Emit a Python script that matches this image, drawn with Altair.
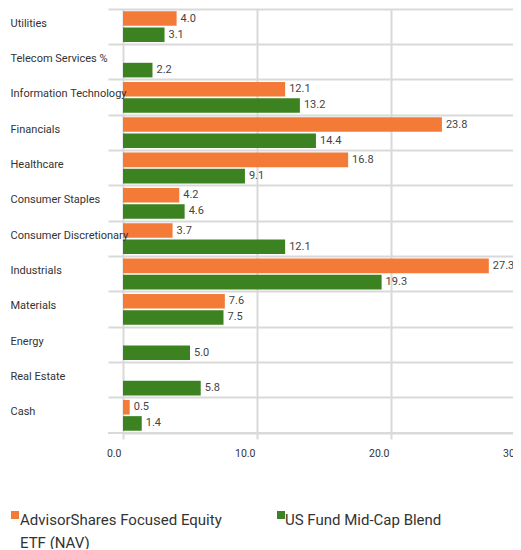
import altair as alt
import pandas as pd

categories = ["Utilities", "Telecom Services %", "Information Technology", "Financials",
              "Healthcare", "Consumer Staples", "Consumer Discretionary", "Industrials",
              "Materials", "Energy", "Real Estate", "Cash"]
fund_values = [4.0, None, 12.1, 23.8, 16.8, 4.2, 3.7, 27.3, 7.6, None, None, 0.5]
bench_values = [3.1, 2.2, 13.2, 14.4, 9.1, 4.6, 12.1, 19.3, 7.5, 5.0, 5.8, 1.4]
series = ["AdvisorShares Focused Equity ETF (NAV)", "US Fund Mid-Cap Blend"]
legend_labels = ["AdvisorShares Focused Equity\nETF (NAV)", "US Fund Mid-Cap Blend"]
colors = ["#F47A37", "#3D8220"]
x_ticks = [0, 10, 20, 30]

rows = []
for c, f, b in zip(categories, fund_values, bench_values):
    if f is not None:
        rows.append({"category": c, "series": series[0], "value": f})
    if b is not None:
        rows.append({"category": c, "series": series[1], "value": b})
df = pd.DataFrame(rows)
legend_df = pd.DataFrame({"series": series, "label": legend_labels})

FONT = "Roboto"
W, H = 402, 424

y_enc = alt.Y("category:N", sort=categories,
              scale=alt.Scale(paddingInner=0, paddingOuter=0),
              axis=alt.Axis(title=None, bandPosition=0, grid=True, gridColor="#d9d9d9",
                            gridWidth=2, ticks=True, tickSize=15, tickColor="#d9d9d9",
                            tickWidth=2, domain=False, labelAlign="left", labelPadding=98,
                            labelOffset=-3, labelBaseline="middle", labelFontSize=11,
                            labelColor="#333333", labelFont=FONT, labelLimit=200,
                            zindex=1))
x_enc = alt.X("value:Q", scale=alt.Scale(domain=[0, 30], nice=False),
              axis=alt.Axis(title=None, values=x_ticks, format=".1f", grid=True,
                            gridColor="#d9d9d9", gridWidth=2, domain=True,
                            domainColor="#d9d9d9", domainWidth=2, tickColor="#d9d9d9",
                            tickWidth=2, tickSize=6, labelPadding=9, labelFontSize=10.5,
                            labelAlign="right", labelOffset=-2,
                            labelColor="#333333", labelFont=FONT))
yoff = alt.YOffset("series:N", sort=series,
                   scale=alt.Scale(paddingInner=0.1, paddingOuter=0.14))
col_scale = alt.Scale(domain=series, range=colors)

base = alt.Chart(df).encode(y=y_enc, x=x_enc, yOffset=yoff)
bars = base.mark_bar().encode(color=alt.Color("series:N", scale=col_scale, legend=None))
text = base.mark_text(align="left", baseline="middle", dx=4, fontSize=11,
                      font=FONT, color="#444444").encode(text=alt.Text("value:Q", format=".1f"))
bottom = alt.Chart(df).mark_rule(color="#d9d9d9", strokeWidth=2).encode(
    y=alt.value(H), x=alt.value(-15), x2=alt.value(W))

# manual legend
leg_pos = [(-108, -103), (158, 162)]
legend_layers = []
for s, (sx, tx) in zip(series, leg_pos):
    lb = alt.Chart(legend_df).transform_filter(alt.datum.series == s)
    legend_layers.append(lb.mark_square(size=64, opacity=1).encode(
        x=alt.value(sx), y=alt.value(506),
        color=alt.Color("series:N", scale=col_scale, legend=None)))
    legend_layers.append(lb.mark_text(align="left", baseline="alphabetic", fontSize=15,
                                      font=FONT, color="#333333", lineBreak="\n",
                                      lineHeight=23).encode(
        x=alt.value(tx), y=alt.value(516), text="label:N"))

chart = alt.layer(bars, text, bottom, *legend_layers).properties(
    width=W, height=H,
    autosize=alt.AutoSizeParams(type="none"),
    padding={"left": 115, "top": 1, "right": -12, "bottom": 116},
).configure_view(stroke=None).configure(font=FONT)

chart.save("out.html", embed_options={"renderer": "svg", "actions": False})
